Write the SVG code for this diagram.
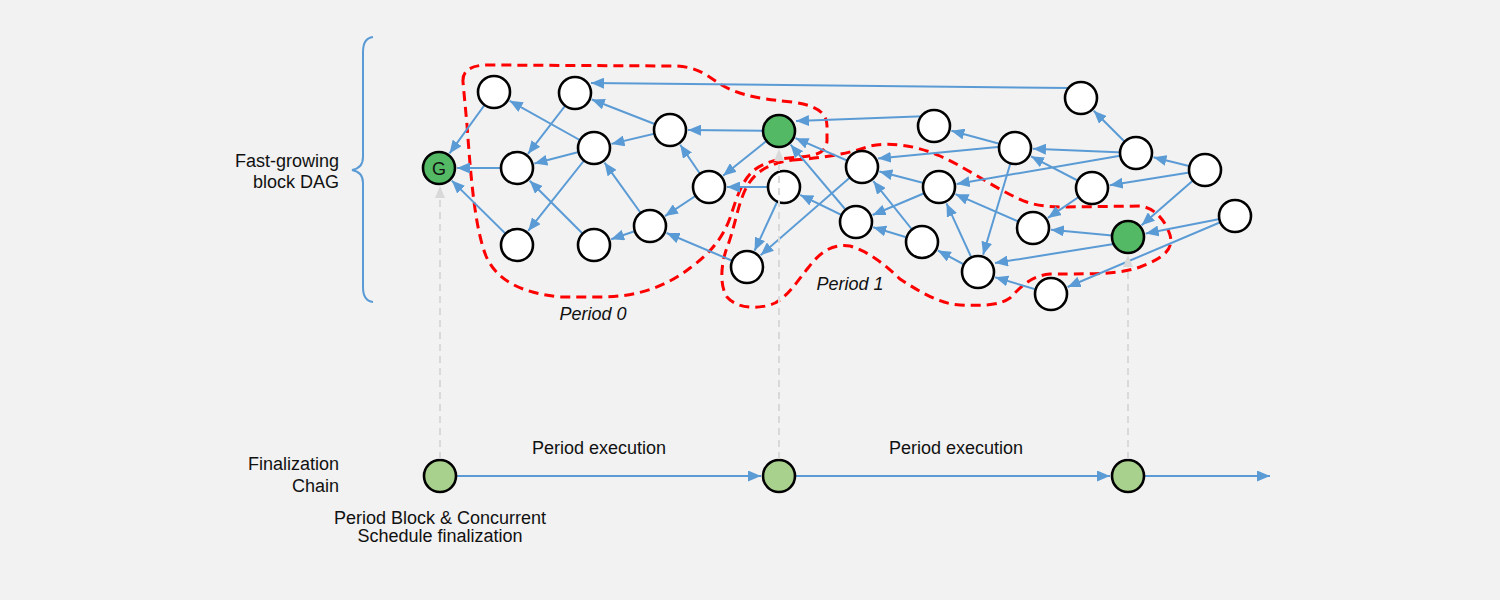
<svg xmlns="http://www.w3.org/2000/svg" width="1500" height="600" viewBox="0 0 1500 600">
<defs>
<marker id="a" markerUnits="userSpaceOnUse" markerWidth="13" markerHeight="11" refX="13" refY="5.5" orient="auto"><path d="M0,0 L13,5.5 L0,11 z" fill="#5B9BD5"/></marker>
<marker id="g" markerUnits="userSpaceOnUse" markerWidth="12" markerHeight="10" refX="12" refY="5" orient="auto"><path d="M0,0 L12,5 L0,10 z" fill="#D9D9D9"/></marker>
</defs>
<style>
.e{stroke:#5B9BD5;stroke-width:2;fill:none;marker-end:url(#a)}
.n{fill:#FFFFFF;stroke:#000;stroke-width:2.6}
.gn{fill:#54B964;stroke:#000;stroke-width:2.6}
.cn{fill:#A9D18E;stroke:#000;stroke-width:2.6}
.gd{stroke:#D9D9D9;stroke-width:2;stroke-dasharray:7,5;fill:none;marker-end:url(#g)}
.rd{stroke:#FF0000;stroke-width:3;stroke-dasharray:10,6;fill:none}
.t{font-family:"Liberation Sans",Arial,sans-serif;font-size:18px;fill:#111}
.it{font-family:"Liberation Sans",Arial,sans-serif;font-size:18px;font-style:italic;fill:#111}
</style>
<rect width="1500" height="600" fill="#F2F2F2"/>

<g id="brace"><path d="M373,37 Q363,38 363,52 L363,157 Q363,168 352,170 Q363,172 363,183 L363,287 Q363,301 373,302" fill="none" stroke="#5B9BD5" stroke-width="2"/></g>
<g id="labels">
<text class="t" x="339" y="167" text-anchor="end">Fast-growing</text>
<text class="t" x="339" y="188" text-anchor="end">block DAG</text>
<text class="t" x="339" y="470" text-anchor="end">Finalization</text>
<text class="t" x="339" y="492" text-anchor="end">Chain</text>
<text class="t" x="440" y="524" text-anchor="middle">Period Block &amp; Concurrent</text>
<text class="t" x="440" y="542" text-anchor="middle">Schedule finalization</text>
<text class="t" x="599" y="454" text-anchor="middle">Period execution</text>
<text class="t" x="956" y="454" text-anchor="middle">Period execution</text>
<text class="it" x="593" y="320" text-anchor="middle">Period 0</text>
<text class="it" x="850" y="290" text-anchor="middle">Period 1</text>
</g>

<g id="periods">
<path id="period0" class="rd" d="M463,82 C462,70 472,65 488,65 L676,66 C698,67 708,76 720,84 C735,93 750,98 792,102 C815,105 827,112 827,126 L827,140 C827,151 818,156 800,157 C780,158 764,162 753,171 C741,182 736,200 730,218 C722,240 708,255 690,268 C668,285 640,297 600,297 L560,297 C522,293 497,281 486,256 C475,228 471,180 467,125 Z"/>
<path id="period1" class="rd" d="M793,160 C820,158 845,155 870,146 C890,142 915,145 940,156 C965,167 990,185 1015,197 C1030,205 1045,207 1065,207 L1140,206 C1155,208 1165,220 1170,235 C1174,250 1163,258 1140,267 C1120,274 1100,274 1050,274 C1030,276 1020,288 1010,298 C1000,305 985,306 960,305 C940,304 920,292 900,279 C885,265 870,252 850,246 C830,243 818,255 808,268 C796,283 788,296 775,303 C762,309 738,310 727,297 C719,285 721,262 728,245 C735,225 737,210 743,195 C750,177 762,164 793,160 Z"/>
</g>

<g id="connectors">
<line class="e" x1="494" y1="92" x2="449.5" y2="153.4"/>
<line class="e" x1="517" y1="168" x2="457" y2="168"/>
<line class="e" x1="517" y1="245" x2="451.8" y2="180.6"/>
<line class="e" x1="594" y1="148" x2="509.7" y2="100.8"/>
<line class="e" x1="575" y1="93" x2="528" y2="153.8"/>
<line class="e" x1="594" y1="148" x2="534.4" y2="163.5"/>
<line class="e" x1="594" y1="148" x2="528.2" y2="230.9"/>
<line class="e" x1="594" y1="245" x2="529.7" y2="180.7"/>
<line class="e" x1="670" y1="130" x2="591.8" y2="99.5"/>
<line class="e" x1="670" y1="130" x2="611.5" y2="143.9"/>
<line class="e" x1="650" y1="226" x2="604.5" y2="162.6"/>
<line class="e" x1="650" y1="226" x2="611.1" y2="239.2"/>
<line class="e" x1="709" y1="187" x2="665" y2="216.1"/>
<line class="e" x1="709" y1="187" x2="680.2" y2="144.8"/>
<line class="e" x1="1070" y1="88" x2="591" y2="83"/>
<line class="e" x1="779" y1="131" x2="688" y2="130"/>
<line class="e" x1="747" y1="267" x2="666.6" y2="233"/>
<line class="e" x1="779" y1="131" x2="723.1" y2="175.7"/>
<line class="e" x1="784" y1="187" x2="727" y2="187"/>
<line class="e" x1="784" y1="187" x2="754.6" y2="250.7"/>
<line class="e" x1="862" y1="167" x2="760.6" y2="255.2"/>
<line class="e" x1="856" y1="222" x2="800.2" y2="194.9"/>
<line class="e" x1="856" y1="222" x2="790.6" y2="144.7"/>
<line class="e" x1="862" y1="167" x2="795.5" y2="138.2"/>
<line class="e" x1="930" y1="116" x2="796" y2="121"/>
<line class="e" x1="939" y1="187" x2="879.4" y2="171.5"/>
<line class="e" x1="939" y1="187" x2="872.6" y2="215"/>
<line class="e" x1="922" y1="242" x2="873.3" y2="181.1"/>
<line class="e" x1="922" y1="242" x2="873.2" y2="227.2"/>
<line class="e" x1="978" y1="272" x2="946.5" y2="203.4"/>
<line class="e" x1="978" y1="272" x2="937.9" y2="250.5"/>
<line class="e" x1="1008" y1="146" x2="878" y2="158.5"/>
<line class="e" x1="1136" y1="153" x2="956.7" y2="183.9"/>
<line class="e" x1="1033" y1="228" x2="955.5" y2="194.2"/>
<line class="e" x1="1015" y1="148" x2="951.4" y2="130.7"/>
<line class="e" x1="1015" y1="148" x2="983.1" y2="254.8"/>
<line class="e" x1="1120" y1="243" x2="995" y2="263"/>
<line class="e" x1="1051" y1="294" x2="995.2" y2="277.2"/>
<line class="e" x1="1092" y1="188" x2="1047.9" y2="217.9"/>
<line class="e" x1="1136" y1="153" x2="1033" y2="148.7"/>
<line class="e" x1="1092" y1="188" x2="1031" y2="156.3"/>
<line class="e" x1="1136" y1="153" x2="1093.7" y2="110.7"/>
<line class="e" x1="1205" y1="170" x2="1153.5" y2="157.3"/>
<line class="e" x1="1205" y1="170" x2="1109.8" y2="185.2"/>
<line class="e" x1="1205" y1="170" x2="1141.6" y2="225.2"/>
<line class="e" x1="1235" y1="216" x2="1145.7" y2="233.5"/>
<line class="e" x1="1235" y1="216" x2="1067.6" y2="287"/>
<line class="e" x1="1128" y1="237" x2="1050.9" y2="229.7"/>
<line class="e" x1="456" y1="476" x2="761" y2="476"/>
<line class="e" x1="795" y1="476" x2="1110" y2="476"/>
<line class="e" x1="1144" y1="476" x2="1270" y2="476"/>
</g>

<g id="nodes">
<g id="G"><circle class="gn" cx="439" cy="168" r="16"/><text class="t" x="439" y="174.5" text-anchor="middle" font-size="17">G</text></g>
<g id="A1"><circle class="n" cx="494" cy="92" r="16"/></g>
<g id="A2"><circle class="n" cx="575" cy="93" r="16"/></g>
<g id="B1"><circle class="n" cx="517" cy="168" r="16"/></g>
<g id="B2"><circle class="n" cx="594" cy="148" r="16"/></g>
<g id="C1"><circle class="n" cx="670" cy="130" r="16"/></g>
<g id="GR1"><circle class="gn" cx="779" cy="131" r="16"/></g>
<g id="D1"><circle class="n" cx="517" cy="245" r="16"/></g>
<g id="D2"><circle class="n" cx="594" cy="245" r="16"/></g>
<g id="E1"><circle class="n" cx="650" cy="226" r="16"/></g>
<g id="F1"><circle class="n" cx="709" cy="187" r="16"/></g>
<g id="F2"><circle class="n" cx="784" cy="187" r="16"/></g>
<g id="H1"><circle class="n" cx="747" cy="267" r="16"/></g>
<g id="I1"><circle class="n" cx="862" cy="167" r="16"/></g>
<g id="I2"><circle class="n" cx="856" cy="222" r="16"/></g>
<g id="J1"><circle class="n" cx="934" cy="126" r="16"/></g>
<g id="J2"><circle class="n" cx="939" cy="187" r="16"/></g>
<g id="K1"><circle class="n" cx="922" cy="242" r="16"/></g>
<g id="L1"><circle class="n" cx="978" cy="272" r="16"/></g>
<g id="M1"><circle class="n" cx="1015" cy="148" r="16"/></g>
<g id="N1"><circle class="n" cx="1081" cy="98" r="16"/></g>
<g id="N2"><circle class="n" cx="1136" cy="153" r="16"/></g>
<g id="N3"><circle class="n" cx="1092" cy="188" r="16"/></g>
<g id="O1"><circle class="n" cx="1205" cy="170" r="16"/></g>
<g id="O2"><circle class="n" cx="1033" cy="228" r="16"/></g>
<g id="GR2"><circle class="gn" cx="1128" cy="237" r="16"/></g>
<g id="P1"><circle class="n" cx="1235" cy="216" r="16"/></g>
<g id="Q1"><circle class="n" cx="1051" cy="294" r="16"/></g>
<g id="C0"><circle class="cn" cx="440" cy="476" r="16"/></g>
<g id="C1f"><circle class="cn" cx="779" cy="476" r="16"/></g>
<g id="C2f"><circle class="cn" cx="1128" cy="476" r="16"/></g>
</g>

<g id="links">
<line class="gd" x1="440" y1="459" x2="440" y2="186"/>
<line class="gd" x1="779" y1="459" x2="779" y2="149"/>
<line class="gd" x1="1128" y1="459" x2="1128" y2="255"/>
</g>
</svg>
